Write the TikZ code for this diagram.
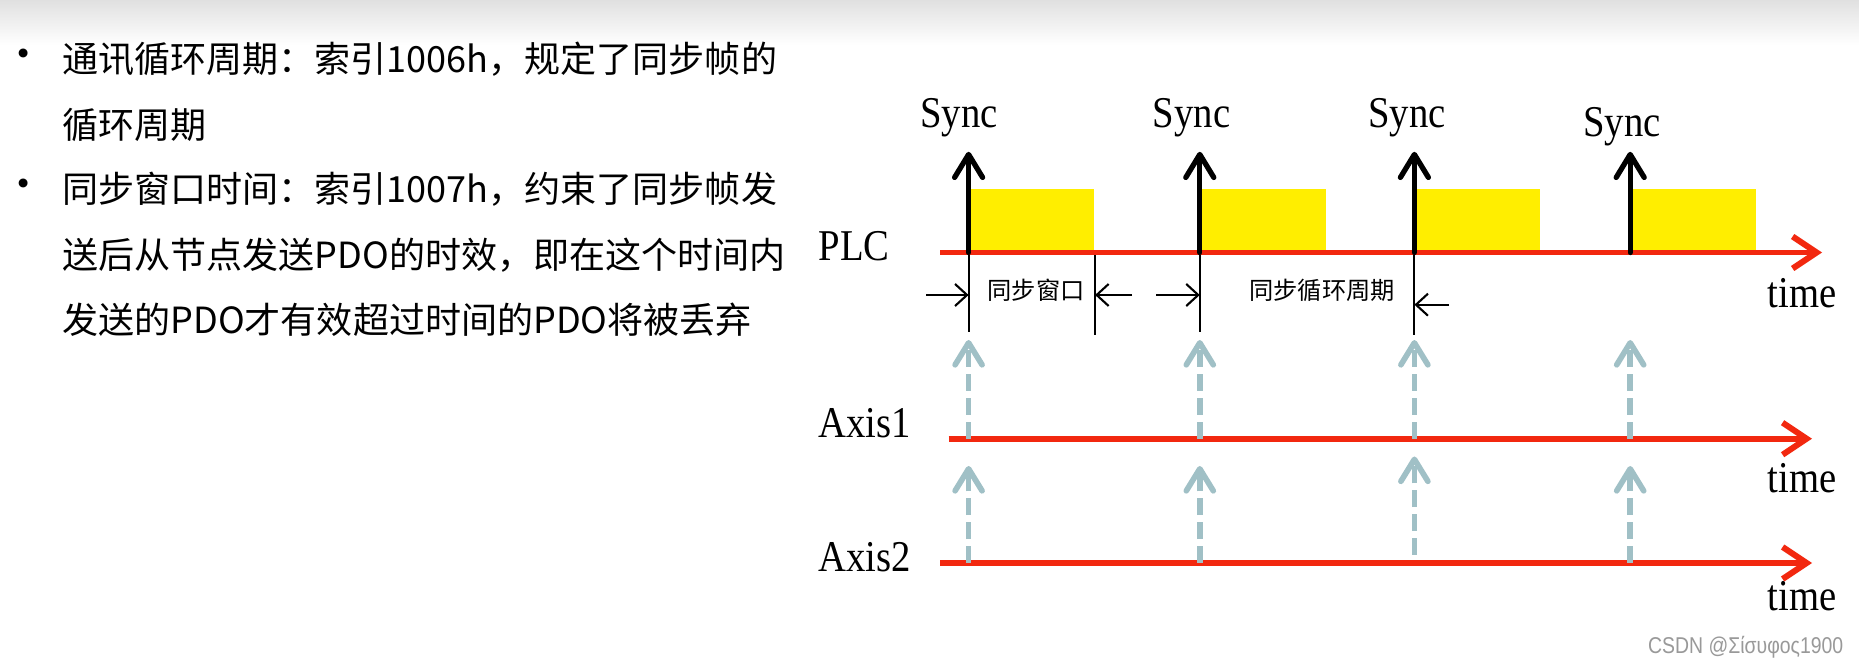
\documentclass[tikz,border=0pt]{standalone}
\usepackage{fontspec}
\setmainfont{Noto Sans CJK SC}
\newfontfamily\sigfont[FakeStretch=0.88]{Liberation Serif}
\newfontfamily\wmfont[FakeStretch=0.85]{Liberation Sans}
\usepackage{tikz}
\usetikzlibrary{arrows.meta,positioning,calc}
\definecolor{cred}{HTML}{F2280F}
\definecolor{cyellow}{HTML}{FFEE00}
\definecolor{cdash}{HTML}{A0C0C6}
\definecolor{cgray}{HTML}{555555}

\begin{document}
\begin{tikzpicture}[x=0.01cm,y=-0.01cm,
  txt/.style={anchor=west,inner sep=0pt,font=\fontsize{10.25}{12}\selectfont},
  bul/.style={inner sep=0pt,font=\fontsize{12}{14}\selectfont},
  sig/.style={inner sep=0pt,font=\sigfont\fontsize{12.5}{14}\selectfont},
  lbl/.style={inner sep=0pt,font=\fontsize{6.9}{8}\selectfont},
  win/.style={rectangle,fill=cyellow,anchor=south west,minimum width=1.25cm,minimum height=0.63cm,inner sep=0pt},
  tl/.style={-{Straight Barb[length=2.4mm,width=3.2mm]},line width=1.7pt,cred},
  syn/.style={-{Straight Barb[round,length=2.3mm,width=2.8mm]},line width=1.5pt,line cap=round},
  pdo/.style={-{Straight Barb[round,length=2.2mm,width=2.7mm]},line width=1.6pt,cdash,dash pattern=on 4.8pt off 2pt},
  tick/.style={line width=0.6pt},
  dim/.style={-{Straight Barb[length=1.2mm,width=2.2mm]},line width=0.6pt}]

  \useasboundingbox[fill=white] (0,0) rectangle (1859,667);
  \shade[top color=black!12,bottom color=white] (0,0) rectangle (1859,45);

  % texto
  \node[bul] (b1) at (23.7,59.3) {•};
  \node[txt] (t1) at (61.7,59.3) {通讯循环周期：索引1006h，规定了同步帧的};
  \node[txt] (t2) at (61.7,124.5) {循环周期};
  \node[bul] (b2) at (23.7,189.7) {•};
  \node[txt] (t3) at (61.7,189.7) {同步窗口时间：索引1007h，约束了同步帧发};
  \node[txt] (t4) at (61.7,254.9) {送后从节点发送PDO的时效，即在这个时间内};
  \node[txt] (t5) at (61.7,320.1) {发送的PDO才有效超过时间的PDO将被丢弃};

  % puntos de sync
  \coordinate (p1) at (968.6,252.5); \coordinate (p2) at (1199.8,252.5);
  \coordinate (p3) at (1414.4,252.5); \coordinate (p4) at (1630.2,252.5);
  \coordinate (plcL) at (940,252.5); \coordinate (plcR) at (1822,252.5);
  \coordinate (ax1L) at (948.5,438.7); \coordinate (ax1R) at (1812,438.7);
  \coordinate (ax2L) at (940,563); \coordinate (ax2R) at (1812,563);

  % ventanas
  \node[win] (w1) at (p1) {}; \node[win] (w2) at (p2) {};
  \node[win] (w3) at (p3) {}; \node[win] (w4) at (p4) {};

  % marcas
  \draw[tick] (p1) -- ++(0,80); \draw[tick] (w1.south east) -- ++(0,83);
  \draw[tick] (p2) -- ++(0,80); \draw[tick] (p3) -- ++(0,83);

  % ejes
  \draw[tl] (plcL) -- (plcR);
  \draw[tl] (ax1L) -- (ax1R);
  \draw[tl] (ax2L) -- (ax2R);

  % sync
  \node[sig] (sy1) at (959,118) {Sync}; \node[sig] (sy2) at (1191.5,118) {Sync};
  \node[sig] (sy3) at (1407,118) {Sync}; \node[sig] (sy4) at (1622,126.5) {Sync};
  \coordinate (s) at (0,151.8);
  \draw[syn] (p1) -- (s -| p1); \draw[syn] (p2) -- (s -| p2);
  \draw[syn] (p3) -- (s -| p3); \draw[syn] (p4) -- (s -| p4);

  % cotas
  \coordinate (m1) at (926,295); \draw[dim] (m1) -- (m1 -| p1);
  \coordinate (m2) at (1132,295); \draw[dim] (m2) -- (m2 -| w1.south east);
  \coordinate (m3) at (1156,295); \draw[dim] (m3) -- (m3 -| p2);
  \coordinate (m4) at (1449,304.7); \draw[dim] (m4) -- (m4 -| p3);
  \node[lbl] (lw) at (1036,290.5) {同步窗口};
  \node[lbl] (lc) at (1322,290.5) {同步循环周期};

  % pdo
  \coordinate (u) at (0,340); \coordinate (v) at (0,466);
  \coordinate (v3) at (0,456.5); \coordinate (v3b) at (0,555);
  \draw[pdo] (ax1L -| p1) -- (u -| p1); \draw[pdo] (ax1L -| p2) -- (u -| p2);
  \draw[pdo] (ax1L -| p3) -- (u -| p3); \draw[pdo] (ax1L -| p4) -- (u -| p4);
  \draw[pdo] (ax2L -| p1) -- (v -| p1); \draw[pdo] (ax2L -| p2) -- (v -| p2);
  \draw[pdo] (v3b -| p3) -- (v3 -| p3); \draw[pdo] (ax2L -| p4) -- (v -| p4);

  % rotulos
  \node[sig,anchor=west] (plc) at (818,246.6) {PLC};
  \node[sig,anchor=west] (ax1) at (818,423.3) {Axis1};
  \node[sig,anchor=west] (ax2) at (818,557.2) {Axis2};
  \node[sig] (tm1) at (1802,292.8) {time};
  \node[sig] (tm2) at (1802,477.8) {time};
  \node[sig] (tm3) at (1802,596.4) {time};
  \node[anchor=east,inner sep=0pt,text=black!40,font=\wmfont\fontsize{6.5}{7}\selectfont] (wm) at (1844,647.3) {CSDN @Σίσυφος1900};
\end{tikzpicture}
\end{document}
